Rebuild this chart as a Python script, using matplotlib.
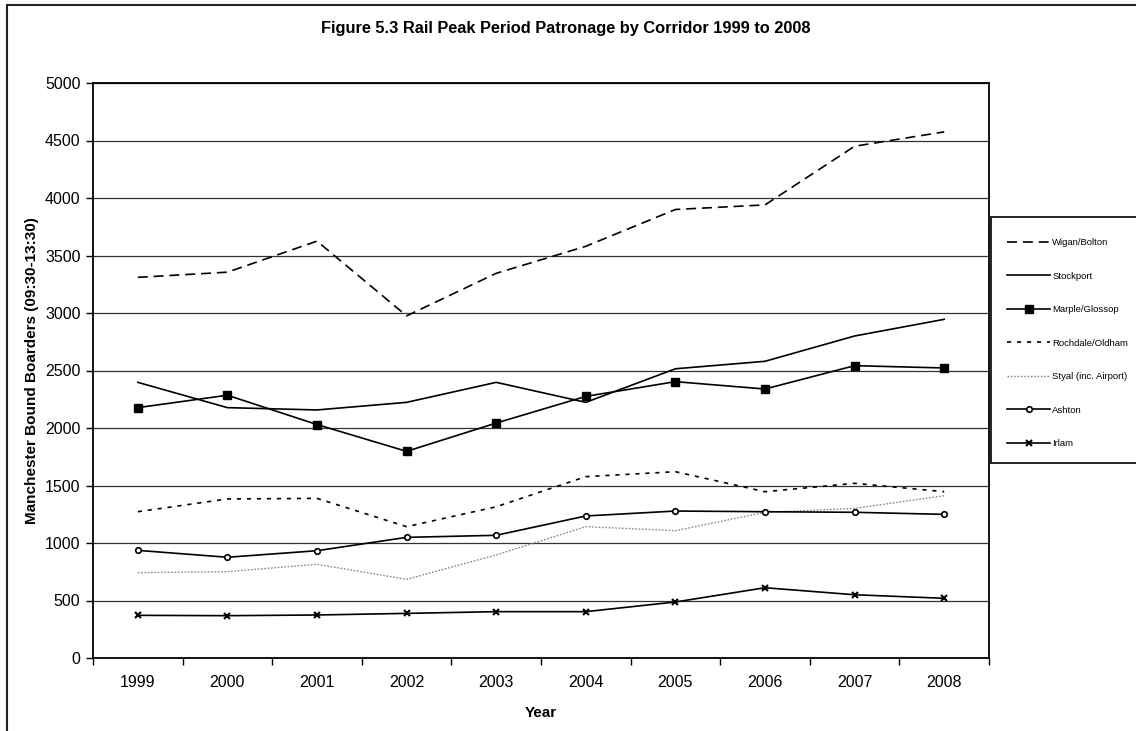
#rail peak period patronage by corridor, 1999 to 2008

import numpy as np
import matplotlib
matplotlib.use('Agg')
import matplotlib.pyplot as plt
import matplotlib.patches as mpatches
from matplotlib.lines import Line2D

plt.rcParams['font.family'] = ['Liberation Sans', 'DejaVu Sans']

#data
years     = ['1999', '2000', '2001', '2002', '2003', '2004', '2005', '2006', '2007', '2008']
wigan     = [3310, 3355, 3625, 2975, 3345, 3580, 3900, 3940, 4450, 4575]
stockport = [2397, 2177, 2157, 2223, 2397, 2223, 2515, 2580, 2800, 2945]
marple    = [2177, 2285, 2030, 1797, 2043, 2275, 2403, 2339, 2542, 2522]
rochdale  = [1272, 1383, 1388, 1142, 1315, 1577, 1620, 1446, 1519, 1446]
styal     = [742, 751, 815, 684, 896, 1142, 1107, 1267, 1301, 1411]
ashton    = [936, 876, 933, 1049, 1067, 1235, 1278, 1272, 1267, 1249]
irlam     = [371, 368, 374, 388, 403, 403, 487, 611, 550, 519]

labels = ['Wigan/Bolton', 'Stockport', 'Marple/Glossop', 'Rochdale/Oldham',
          'Styal (inc. Airport)', 'Ashton', 'Irlam']

fig = plt.figure(figsize=(11.36, 7.31), dpi=100)
ax  = fig.add_axes([93/1136, 1 - 658/731, (989 - 93)/1136, (658 - 83)/731])

x = np.arange(len(years))
lw = 1.2

#line styles for each corridor
styles = [dict(color='black', lw=lw, dashes=(6, 3.5)),
          dict(color='black', lw=lw),
          dict(color='black', lw=lw, marker='s', ms=5.5),
          dict(color='black', lw=lw, dashes=(2.5, 3.5)),
          dict(color='#8a8a8a', lw=1.0, dashes=(1.2, 1.2)),
          dict(color='black', lw=lw, marker='o', ms=4, mfc='white', mew=1.2),
          dict(color='black', lw=lw, marker='x', ms=4.5, mew=1.5)]

series = [wigan, stockport, marple, rochdale, styal, ashton, irlam]
for vals, st in zip(series, styles):
    ax.plot(x, vals, **st)

#axes limits, grid and ticks in the Excel style
ax.set_ylim(0, 5000)
ax.set_xlim(-0.5, len(years) - 0.5)
ax.set_yticks(np.arange(0, 5001, 500))
ax.yaxis.grid(True, color='#333333', lw=0.9)
ax.set_axisbelow(True)
ax.set_xticks(x)
ax.set_xticklabels(years)
ax.set_xticks(np.arange(-0.5, len(years), 1), minor=True)
ax.tick_params(axis='x', which='major', length=0, pad=12, labelsize=11.5)
ax.tick_params(axis='x', which='minor', length=5, width=1, direction='out')
ax.tick_params(axis='y', length=5, width=1, direction='out', labelsize=11.5, pad=4)
for s in ax.spines.values():
    s.set_linewidth(1.3)

ax.set_xlabel('Year', fontsize=11, fontweight='bold', labelpad=12)
ax.set_ylabel('Manchester Bound Boarders (09:30-13:30)', fontsize=11, fontweight='bold', labelpad=4)
fig.text(566/1136, 1 - 28/731, 'Figure 5.3 Rail Peak Period Patronage by Corridor 1999 to 2008',
         ha='center', va='center', fontsize=11.8, fontweight='bold')

#outer chart border
fig.patches.append(mpatches.Rectangle((7/1136, -0.05), 1.1, 1 - 5/731 + 0.05, transform=fig.transFigure,
                                      fill=False, ec='#222222', lw=1.5))

#legend box, runs off the right edge like the original
fig.patches.append(mpatches.Rectangle((991/1136, 1 - 463/731), 0.2, (463 - 217)/731, transform=fig.transFigure,
                                      fill=True, fc='white', ec='black', lw=1.2))
handles = [Line2D([], [], **st) for st in styles]
fig.legend(handles, labels, loc='upper left', bbox_to_anchor=(1007/1136, 1 - 238/731),
           frameon=False, fontsize=6.8, labelspacing=2.6, handlelength=4.6, handletextpad=0.2,
           borderpad=0, borderaxespad=0)

fig.savefig('out.png', dpi=100)
